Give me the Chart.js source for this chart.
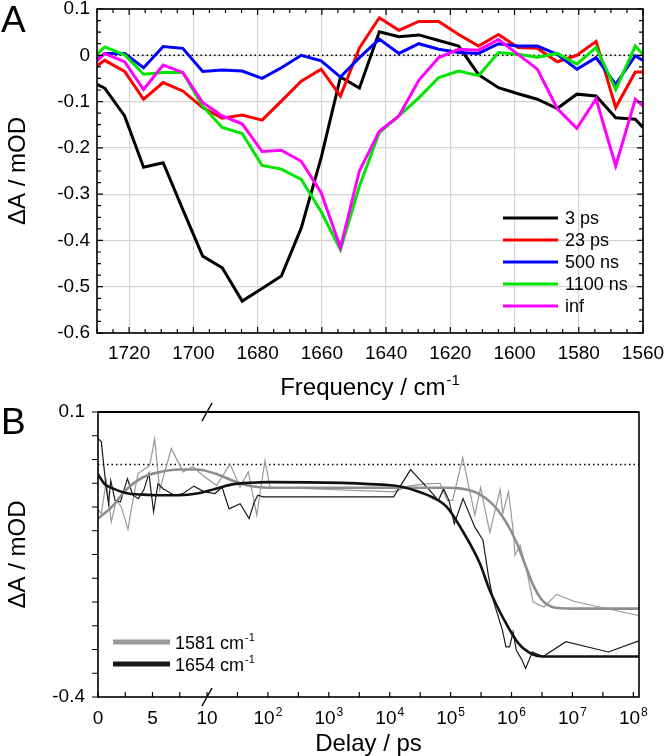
<!DOCTYPE html>
<html>
<head>
<meta charset="utf-8">
<script src="https://cdn.jsdelivr.net/npm/chart.js@4.4.0/dist/chart.umd.min.js"></script>
<style>
  html, body { margin: 0; padding: 0; background: #fff; }
  #wrap { position: relative; width: 664px; height: 756px; }
  canvas { position: absolute; left: 0; }
  #chartA { top: 0; }
  #chartB { top: 400px; }
</style>
</head>
<body>
<div id="wrap">
  <canvas id="chartA" width="664" height="400"></canvas>
  <canvas id="chartB" width="664" height="356"></canvas>
</div>
<script>
// ---------- Panel A: spectra (mOD vs cm-1) ----------
const freqs = [1730, 1727.6, 1721.4, 1715.5, 1709.4, 1703.3, 1697.1, 1691, 1684.8, 1678.6,
  1672.6, 1666.4, 1660.2, 1654.2, 1648.3, 1642.1, 1636, 1629.8, 1623.6, 1617.4,
  1611.2, 1605, 1598.9, 1592.9, 1586.7, 1580.6, 1574.6, 1568.5, 1562.4, 1560];
const spec3ps = [-0.063, -0.071, -0.131, -0.242, -0.232, -0.333, -0.434, -0.459, -0.531, -0.504,
  -0.477, -0.373, -0.221, -0.047, -0.071, 0.051, 0.040, 0.044, 0.032, 0.020,
  -0.042, -0.070, -0.083, -0.095, -0.115, -0.084, -0.088, -0.135, -0.138, -0.156];
const spec23ps = [-0.023, -0.011, -0.035, -0.095, -0.059, -0.077, -0.113, -0.136, -0.129, -0.140,
  -0.099, -0.056, -0.030, -0.088, 0.016, 0.081, 0.054, 0.073, 0.073, 0.045,
  0.020, 0.045, 0.017, 0.015, -0.014, 0.000, 0.030, -0.113, -0.036, -0.036];
const spec500ns = [-0.009, 0.004, 0.004, -0.027, 0.019, 0.015, -0.035, -0.032, -0.034, -0.050,
  -0.027, 0.000, -0.012, -0.047, -0.005, 0.035, 0.004, 0.025, 0.013, 0.006,
  0.004, 0.025, 0.020, 0.020, 0.002, -0.030, -0.005, -0.063, -0.001, -0.011];
const spec1100ns = [0.002, 0.018, 0.001, -0.041, -0.037, -0.037, -0.110, -0.156, -0.169, -0.238,
  -0.246, -0.268, -0.338, -0.420, -0.283, -0.167, -0.131, -0.092, -0.048, -0.034,
  -0.044, 0.006, 0.002, -0.004, 0.004, -0.019, 0.017, -0.074, 0.020, 0.002];
const specInf = [-0.012, 0.004, -0.014, -0.074, -0.021, -0.037, -0.102, -0.131, -0.148, -0.208,
  -0.205, -0.229, -0.297, -0.416, -0.250, -0.164, -0.131, -0.054, -0.005, 0.013,
  0.011, 0.034, 0.002, -0.030, -0.115, -0.158, -0.094, -0.239, -0.095, -0.109];
const specLabels = ['3 ps', '23 ps', '500 ns', '1100 ns', 'inf'];
const specColors = ['#000000', '#ff0000', '#0000ff', '#00e600', '#ff00ff'];
const freqTicks = [1720, 1700, 1680, 1660, 1640, 1620, 1600, 1580, 1560];
const dATicksA = [-0.6, -0.5, -0.4, -0.3, -0.2, -0.1, 0, 0.1];

// ---------- Panel B: kinetics (mOD vs delay) ----------
const delayRaw1581 = [0, 0.31, 0.76, 1.22, 1.68, 2.14, 2.75, 3.06, 3.67, 4.74, 5.2, 5.66, 6.73, 7.8, 8.7, 9.6,
  14.4, 23.9, 34.8, 47.8, 65.5, 89.6, 108, 11600, 20000, 40000, 67000, 88000, 108000, 158000,
  250000, 310000, 440000, 650000, 720000, 890000, 1050000, 1140000, 1380000, 1780000,
  2250000, 3400000, 5500000, 10500000, 120000000];
const raw1581 = [-0.072, -0.078, -0.020, -0.093, -0.055, -0.067, -0.106, -0.070, -0.008, 0.006,
  0.053, -0.037, 0.036, -0.005, 0.004, -0.011, -0.029, 0.009, -0.032, -0.005,
  -0.081, 0.015, -0.032, -0.040, -0.030, -0.026, -0.025, -0.055, -0.055, 0.020,
  -0.081, -0.033, -0.111, -0.036, -0.078, -0.040, -0.102, -0.151, -0.134, -0.178,
  -0.233, -0.242, -0.220, -0.232, -0.257];
const delayRaw1654 = [0, 0.3, 0.74, 0.97, 1.17, 1.56, 2.05, 2.7, 3.2, 3.7, 4.2, 4.67, 5.1, 5.5, 6.0, 7.0, 7.8, 8.8, 9.75,
  13.5, 17.7, 23, 35, 49, 60, 68, 84, 11600, 22000, 32000, 45000, 63000, 77000, 94000,
  115000, 160000, 250000, 340000, 420000, 500000, 710000, 810000, 930000, 1060000, 1200000,
  1500000, 1700000, 2200000, 3300000, 7800000, 39000000, 120000000];
const raw1654 = [0.053, 0.048, -0.032, -0.061, -0.020, -0.055, -0.058, -0.017, -0.046, -0.052,
  -0.037, -0.008, -0.075, -0.026, -0.035, -0.046, -0.043, -0.030, -0.040, -0.043,
  -0.032, -0.070, -0.061, -0.087, -0.058, -0.046, -0.049, -0.049, -0.001, -0.020,
  -0.037, -0.055, -0.035, -0.055, -0.096, -0.052, -0.102, -0.125, -0.189, -0.230,
  -0.283, -0.312, -0.312, -0.286, -0.318, -0.336, -0.350, -0.321, -0.329, -0.303,
  -0.321, -0.302];
const delayFit1581 = [0, 1.24, 2.55, 4.18, 5.82, 7.45, 9.08, 13.5, 26, 52, 102, 1000, 10000, 87000,
  140000, 270000, 500000, 800000, 1200000, 1700000, 2300000, 3300000, 5000000, 10000000, 124000000];
const fit1581 = [-0.087, -0.067, -0.037, -0.014, -0.005, -0.001, -0.001, -0.008, -0.020, -0.030,
  -0.033, -0.033, -0.033, -0.033, -0.034, -0.042, -0.063, -0.092, -0.128, -0.170,
  -0.205, -0.232, -0.243, -0.245, -0.245];
const delayFit1654 = [0, 0.59, 1.24, 2.55, 4.18, 5.82, 7.45, 9.08, 13.5, 26, 52, 102, 11500, 17000,
  30000, 51000, 87000, 150000, 300000, 440000, 760000, 1300000, 2200000, 3300000, 124000000];
const fit1654 = [-0.009, -0.026, -0.033, -0.042, -0.045, -0.046, -0.046, -0.043, -0.035, -0.027,
  -0.024, -0.023, -0.029, -0.032, -0.040, -0.050, -0.067, -0.105, -0.165, -0.213,
  -0.265, -0.306, -0.325, -0.329, -0.329];
const zeroLevelB = 0.008;
const kinLabels = ['1581', '1654'];
const delayTicks = [0, 5, 10, 1e2, 1e3, 1e4, 1e5, 1e6, 1e7, 1e8];
const dATicksB = [0.1, -0.4];

// broken delay axis: linear 0..10 ps, then logarithmic
const LIN_END = 10;
const DECADE = 5.587;
const AXIS_MAX = 49.63;
const toAxis = (t) => t <= LIN_END ? t : LIN_END + DECADE * Math.log10(t / LIN_END);

const FONT = '"Liberation Sans", Arial, Helvetica, sans-serif';
const font = (s) => s + 'px ' + FONT;

function supText(ctx, base, sup, x, y, size, align) {
  ctx.font = font(size);
  const wb = ctx.measureText(base).width;
  const ss = Math.round(size * 0.62);
  ctx.font = font(ss);
  const ws = sup ? ctx.measureText(sup).width + 1 : 0;
  const x0 = align === 'center' ? x - (wb + ws) / 2 : x;
  ctx.textAlign = 'left';
  ctx.textBaseline = 'alphabetic';
  ctx.font = font(size);
  ctx.fillText(base, x0, y);
  if (sup) {
    ctx.font = font(ss);
    ctx.fillText(sup, x0 + wb + 1, y - size * 0.42);
  }
}

function vTitle(ctx, text, cx, cy, size) {
  ctx.save();
  ctx.translate(cx, cy);
  ctx.rotate(-Math.PI / 2);
  ctx.font = font(size);
  ctx.textAlign = 'center';
  ctx.textBaseline = 'middle';
  ctx.fillText(text, 0, 0);
  ctx.restore();
}

function yLabel(ctx, txt, x, y) {
  ctx.font = font(19);
  ctx.textAlign = 'right';
  ctx.textBaseline = 'middle';
  ctx.fillText(txt, x, y);
}

const decorA = {
  id: 'decorA',
  afterDraw(chart) {
    const { ctx, chartArea: a, scales: { x, y } } = chart;
    ctx.save();
    ctx.strokeStyle = '#000';
    ctx.fillStyle = '#000';
    ctx.lineWidth = 1.2;
    ctx.beginPath();
    for (let f = 1560; f <= 1730; f += 5) {
      const px = x.getPixelForValue(f);
      const len = f % 20 === 0 ? 6 : 4;
      ctx.moveTo(px, a.bottom); ctx.lineTo(px, a.bottom - len);
      ctx.moveTo(px, a.top); ctx.lineTo(px, a.top + len);
    }
    for (let k = 0; k <= 28; k++) {
      const py = y.getPixelForValue(-0.6 + k * 0.025);
      const len = k % 4 === 0 ? 6 : 4;
      ctx.moveTo(a.left, py); ctx.lineTo(a.left + len, py);
      ctx.moveTo(a.right, py); ctx.lineTo(a.right - len, py);
    }
    ctx.stroke();
    ctx.lineWidth = 1.6;
    ctx.strokeRect(a.left, a.top, a.right - a.left, a.bottom - a.top);

    // tick labels
    freqTicks.forEach((f) => supText(ctx, String(f), '', x.getPixelForValue(f), a.bottom + 26, 19, 'center'));
    dATicksA.forEach((v) => yLabel(ctx, v === 0 ? '0' : v.toFixed(1), a.left - 7, y.getPixelForValue(v)));

    // legend
    specLabels.forEach((lab, i) => {
      const ly = 218 + i * 22;
      ctx.strokeStyle = specColors[i];
      ctx.lineWidth = 3;
      ctx.beginPath();
      ctx.moveTo(503, ly); ctx.lineTo(558, ly);
      ctx.stroke();
      ctx.font = font(18);
      ctx.textAlign = 'left';
      ctx.textBaseline = 'middle';
      ctx.fillText(lab, 565, ly + 1);
    });

    supText(ctx, 'Frequency / cm', '-1', (a.left + a.right) / 2, 395, 24, 'center');
    vTitle(ctx, '\u0394A / mOD', 18, (a.top + a.bottom) / 2, 24);
    ctx.font = font(37);
    ctx.textAlign = 'left';
    ctx.textBaseline = 'alphabetic';
    ctx.fillText('A', 1, 32);
    ctx.restore();
  }
};

const decorB = {
  id: 'decorB',
  afterDraw(chart) {
    const { ctx, chartArea: a, scales: { x, y } } = chart;
    ctx.save();
    ctx.strokeStyle = '#000';
    ctx.fillStyle = '#000';
    ctx.lineWidth = 1.2;
    ctx.beginPath();
    // bottom ticks: linear half steps, then half decades
    const tickPos = [0, 2.5, 5, 7.5, 10];
    for (let k = 1; k <= 14; k++) tickPos.push(LIN_END + DECADE * k / 2);
    tickPos.forEach((u) => {
      const px = x.getPixelForValue(u);
      ctx.moveTo(px, a.bottom); ctx.lineTo(px, a.bottom - 5);
    });
    for (let k = 0; k <= 12; k++) {
      const py = y.getPixelForValue(-0.4 + k * 0.5 / 12);
      ctx.moveTo(a.left, py); ctx.lineTo(a.left - 6, py);
    }
    ctx.stroke();
    ctx.lineWidth = 1.6;
    ctx.strokeRect(a.left, a.top, a.right - a.left, a.bottom - a.top);
    ctx.lineWidth = 2;
    ctx.beginPath();
    ctx.moveTo(a.left, a.top); ctx.lineTo(a.right, a.top);
    ctx.stroke();

    // axis break marks
    const bx = x.getPixelForValue(LIN_END);
    ctx.lineWidth = 1.5;
    ctx.beginPath();
    [a.top, a.bottom].forEach((by) => {
      ctx.moveTo(bx - 5, by + 9); ctx.lineTo(bx + 5, by - 9);
    });
    ctx.stroke();

    // tick labels
    delayTicks.forEach((t) => {
      const px = x.getPixelForValue(toAxis(t));
      if (t <= LIN_END) supText(ctx, String(t), '', px, a.bottom + 27, 19, 'center');
      else supText(ctx, '10', String(Math.round(Math.log10(t))), px, a.bottom + 27, 19, 'center');
    });
    dATicksB.forEach((v) => yLabel(ctx, v.toFixed(1), a.left - 13, y.getPixelForValue(v)));

    // legend
    const legCols = ['#9a9a9a', '#161616'];
    kinLabels.forEach((lab, i) => {
      const ly = 242 + i * 22;
      ctx.strokeStyle = legCols[i];
      ctx.lineWidth = 5;
      ctx.beginPath();
      ctx.moveTo(113, ly); ctx.lineTo(170, ly);
      ctx.stroke();
      supText(ctx, lab + ' cm', '-1', 175, ly + 7, 18, 'left');
    });

    supText(ctx, 'Delay / ps', '', (a.left + a.right) / 2, 351, 24, 'center');
    vTitle(ctx, '\u0394A / mOD', 18, (a.top + a.bottom) / 2, 24);
    ctx.font = font(37);
    ctx.textAlign = 'left';
    ctx.textBaseline = 'alphabetic';
    ctx.fillText('B', 1, 34);
    ctx.restore();
  }
};

// ---------- Chart A ----------
const specSeries = [spec3ps, spec23ps, spec500ns, spec1100ns, specInf];
const dsA = specSeries.map((vals, i) => ({
  label: specLabels[i],
  data: freqs.map((f, j) => ({ x: f, y: vals[j] })),
  borderColor: specColors[i],
  borderWidth: 3,
  order: specSeries.length - 1 - i,
  clip: 0
}));
dsA.push({
  label: 'zero',
  data: [{ x: freqs[0], y: 0 }, { x: freqs[freqs.length - 1], y: 0 }],
  borderColor: '#000',
  borderWidth: 1.5,
  borderDash: [1.5, 3],
  order: 10
});

new Chart(document.getElementById('chartA'), {
  type: 'line',
  data: { datasets: dsA },
  options: {
    responsive: false,
    animation: false,
    devicePixelRatio: 1,
    layout: { padding: { top: 9, right: 21, left: 0, bottom: 0 } },
    plugins: { legend: { display: false }, tooltip: { enabled: false } },
    elements: { point: { radius: 0 }, line: { tension: 0 } },
    scales: {
      x: {
        type: 'linear', reverse: true, min: 1560, max: 1730,
        afterBuildTicks: (s) => { s.ticks = freqTicks.map((v) => ({ value: v })); },
        afterFit: (s) => { s.height = 67; },
        grid: { color: '#d4d4d4', lineWidth: 1.2, drawTicks: false },
        border: { display: false },
        ticks: { display: false }
      },
      y: {
        type: 'linear', min: -0.6, max: 0.1,
        afterBuildTicks: (s) => { s.ticks = dATicksA.map((v) => ({ value: v })); },
        afterFit: (s) => { s.width = 97; },
        grid: { color: '#d4d4d4', lineWidth: 1.2, drawTicks: false },
        border: { display: false },
        ticks: { display: false }
      }
    }
  },
  plugins: [decorA]
});

// ---------- Chart B ----------
const toPts = (ts, vs) => ts.map((t, i) => ({ x: toAxis(t), y: vs[i] }));
const dsB = [
  { label: '1654 fit', data: toPts(delayFit1654, fit1654), borderColor: '#111', borderWidth: 2.6, cubicInterpolationMode: 'monotone', order: 0 },
  { label: '1581 fit', data: toPts(delayFit1581, fit1581), borderColor: '#8e8e8e', borderWidth: 2.6, cubicInterpolationMode: 'monotone', order: 1 },
  { label: '1654 raw', data: toPts(delayRaw1654, raw1654), borderColor: '#1a1a1a', borderWidth: 1.2, order: 2 },
  { label: '1581 raw', data: toPts(delayRaw1581, raw1581), borderColor: '#999', borderWidth: 1.2, order: 3 },
  { label: 'zero', data: [{ x: 0, y: zeroLevelB }, { x: AXIS_MAX, y: zeroLevelB }], borderColor: '#000', borderWidth: 1.5, borderDash: [1.5, 3], order: 4 }
];
dsB.forEach((d) => { d.clip = 0; });

new Chart(document.getElementById('chartB'), {
  type: 'line',
  data: { datasets: dsB },
  options: {
    responsive: false,
    animation: false,
    devicePixelRatio: 1,
    layout: { padding: { top: 12, right: 25, left: 0, bottom: 0 } },
    plugins: { legend: { display: false }, tooltip: { enabled: false } },
    elements: { point: { radius: 0 }, line: { tension: 0 } },
    scales: {
      x: {
        type: 'linear', min: 0, max: AXIS_MAX,
        afterFit: (s) => { s.height = 59; },
        grid: { display: false },
        border: { display: false },
        ticks: { display: false }
      },
      y: {
        type: 'linear', min: -0.4, max: 0.1,
        afterFit: (s) => { s.width = 98; },
        grid: { display: false },
        border: { display: false },
        ticks: { display: false }
      }
    }
  },
  plugins: [decorB]
});
</script>
</body>
</html>
